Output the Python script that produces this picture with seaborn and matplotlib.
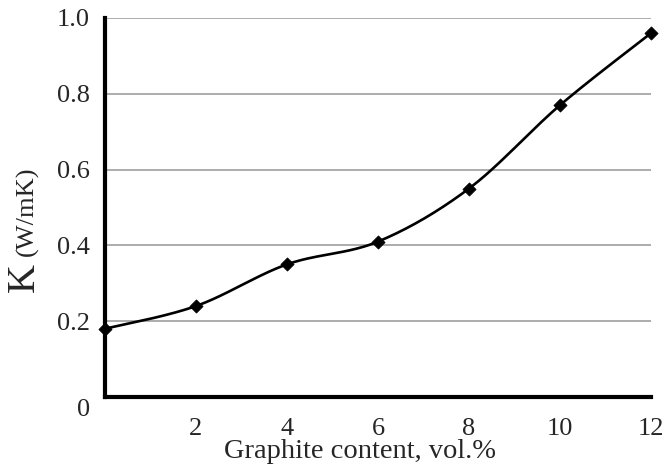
import numpy as np
import pandas as pd
import matplotlib
matplotlib.use("Agg")
import matplotlib.pyplot as plt
import matplotlib.transforms as mtransforms
import seaborn as sns

# values
graphite = [0, 2, 4, 6, 8, 10, 12]
k_values = [0.18, 0.24, 0.35, 0.41, 0.55, 0.77, 0.96]
x_ticks = [2, 4, 6, 8, 10, 12]
y_ticks = [0, 0.2, 0.4, 0.6, 0.8, 1.0]
y_tick_labels = ["0", "0.2", "0.4", "0.6", "0.8", "1.0"]

sns.set_style("white")
plt.rcParams['font.family'] = ['Liberation Serif', 'DejaVu Serif']

df = pd.DataFrame({"x": graphite, "k": k_values})


# smoothed line like a spreadsheet chart (bezier through the points)
def smooth(xs, ys, n=40):
    p = np.column_stack([xs, ys]).astype(float)
    p_ext = np.vstack([p[0], p, p[-1]])
    out = []
    t = np.linspace(0, 1, n)[:, None]
    for i in range(len(p) - 1):
        p0, p1, p2, p3 = p_ext[i], p_ext[i + 1], p_ext[i + 2], p_ext[i + 3]
        c1 = p1 + (p2 - p0) / 6
        c2 = p2 - (p3 - p1) / 6
        seg = ((1 - t) ** 3 * p1 + 3 * (1 - t) ** 2 * t * c1
               + 3 * (1 - t) * t ** 2 * c2 + t ** 3 * p2)
        out.append(seg if i == 0 else seg[1:])
    return np.vstack(out)


curve = smooth(df["x"], df["k"])
curve_df = pd.DataFrame({"x": curve[:, 0], "k": curve[:, 1]})

fig = plt.figure(figsize=(6.64, 4.75), dpi=100)
ax = fig.add_axes([105 / 664, 1 - 397 / 475, 546 / 664, 379 / 475])

for yv in y_ticks[1:]:
    ax.axhline(yv, color="#a6a6a6", lw=1.3, zorder=1)

sns.lineplot(data=curve_df, x="x", y="k", sort=False, color="black", lw=1.9,
             ax=ax, zorder=3, clip_on=False)
sns.scatterplot(data=df, x="x", y="k", marker="D", s=45, color="black",
                edgecolor="black", ax=ax, zorder=4, clip_on=False)

ax.set_xlim(0, 12)
ax.set_ylim(0, 1.0)
ax.set_xticks(x_ticks)
ax.set_yticks(y_ticks)
ax.set_yticklabels(y_tick_labels)
ax.tick_params(axis="x", direction="out", length=5, width=1, color="#888888",
               pad=10, labelsize=19)
ax.tick_params(axis="y", direction="out", length=6, width=1, color="#888888",
               pad=5, labelsize=19)

# the "0" label sits a bit below the axis in the original
zero = ax.get_yticklabels()[0]
zero.set_transform(zero.get_transform() +
                   mtransforms.ScaledTranslation(0, -11 / 100, fig.dpi_scale_trans))

for side in ["top", "right"]:
    ax.spines[side].set_visible(False)
for side in ["left", "bottom"]:
    ax.spines[side].set_linewidth(3)
    ax.spines[side].set_color("black")
    ax.spines[side].set_zorder(5)

ax.set_xlabel("Graphite content, vol.%", fontsize=20.5)
ax.xaxis.set_label_coords(0.467, -0.112)
ax.set_ylabel("")

# y label: big K with smaller unit
fig.text(24 / 664, 1 - 292 / 475, "K", rotation=90, fontsize=29,
         ha="center", va="bottom")
fig.text(27 / 664, 1 - 256 / 475, "(W/mK)", rotation=90, fontsize=19,
         ha="center", va="bottom")

fig.savefig("out.png", dpi=100)
